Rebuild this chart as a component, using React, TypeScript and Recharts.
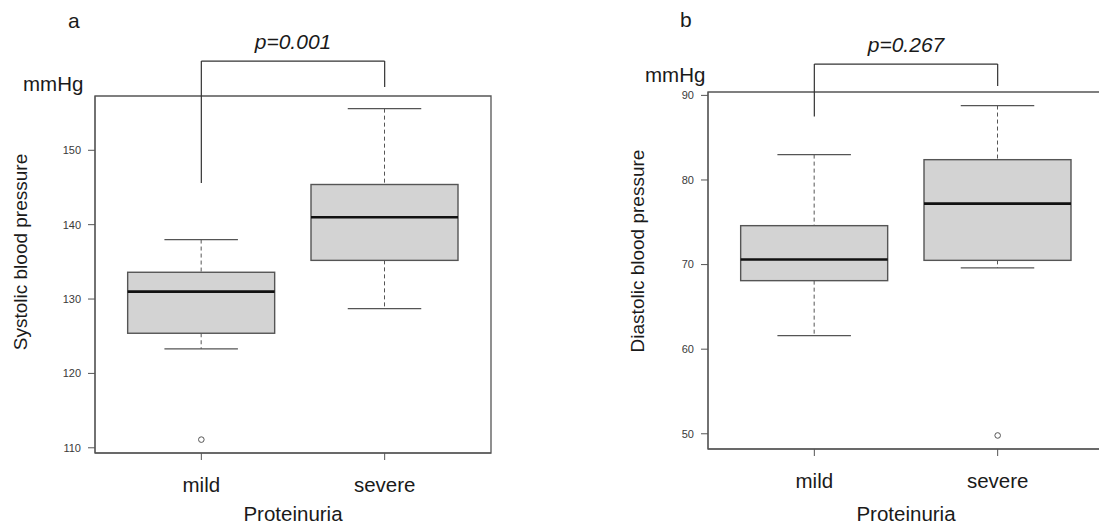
import React from 'react';
import { ComposedChart, Bar, Line, XAxis, YAxis, ReferenceLine, ReferenceArea } from 'recharts';

const groups = ['mild', 'severe'];
const groupPos = [1, 2];

// systolic (panel a)
const sbpLow = [123.3, 128.7];
const sbpQ1 = [125.4, 135.2];
const sbpMedian = [131.0, 141.0];
const sbpQ3 = [133.6, 145.4];
const sbpHigh = [138.0, 155.6];
const sbpOutlier = [111.1, null];
const sbpTicks = [110, 120, 130, 140, 150];

// diastolic (panel b)
const dbpLow = [61.6, 69.6];
const dbpQ1 = [68.1, 70.5];
const dbpMedian = [70.6, 77.2];
const dbpQ3 = [74.6, 82.4];
const dbpHigh = [83.0, 88.8];
const dbpOutlier = [null, 49.8];
const dbpTicks = [50, 60, 70, 80, 90];

const makeRows = (low, q1, med, q3, high, out) =>
    groups.map((g, i) => ({ group: g, pos: groupPos[i], low: low[i], q1: q1[i], median: med[i], q3: q3[i], high: high[i], outlier: out[i] }));

const sbpRows = makeRows(sbpLow, sbpQ1, sbpMedian, sbpQ3, sbpHigh, sbpOutlier);
const dbpRows = makeRows(dbpLow, dbpQ1, dbpMedian, dbpQ3, dbpHigh, dbpOutlier);

const FRAME = '#555';
const TEXT = '#1a1a1a';

const BoxShape = (props) => {
    const { x, y, width, height, payload } = props;
    if (payload == null || x == null) return null;
    const top = Math.min(y, y + height);
    const bottom = Math.max(y, y + height);
    // map a value to pixels using the whisker range the library gave us
    const py = (v) => bottom - (bottom - top) * (v - payload.low) / (payload.high - payload.low);
    const cx = x + width / 2;
    const cap = width * 0.25;
    return (
        <g>
            <line x1={cx} x2={cx} y1={py(payload.high)} y2={py(payload.q3)} stroke={FRAME} strokeWidth={1} strokeDasharray="4 3" />
            <line x1={cx} x2={cx} y1={py(payload.q1)} y2={py(payload.low)} stroke={FRAME} strokeWidth={1} strokeDasharray="4 3" />
            <line x1={cx - cap} x2={cx + cap} y1={py(payload.high)} y2={py(payload.high)} stroke={FRAME} strokeWidth={1.3} />
            <line x1={cx - cap} x2={cx + cap} y1={py(payload.low)} y2={py(payload.low)} stroke={FRAME} strokeWidth={1.3} />
            <rect x={x} y={py(payload.q3)} width={width} height={py(payload.q1) - py(payload.q3)} fill="#d3d3d3" stroke={FRAME} strokeWidth={1.4} />
            <line x1={x} x2={x + width} y1={py(payload.median)} y2={py(payload.median)} stroke="#111" strokeWidth={2.6} />
        </g>
    );
};

const OutlierDot = (props) => {
    const { cx, cy, value, index } = props;
    if (value == null || cy == null || isNaN(cy)) return <g key={`o-${index}`} />;
    return <circle key={`o-${index}`} cx={cx} cy={cy} r={2.8} fill="#fff" stroke={FRAME} strokeWidth={1} />;
};

const Panel = ({ rows, domain, ticks, width, margin, xHeight, pText, bracket }) => (
    <ComposedChart width={width} height={529} data={rows} margin={margin}>
        <XAxis dataKey="pos" type="number" domain={[0.42, 2.58]} ticks={groupPos} height={xHeight}
            tickFormatter={(v) => groups[v - 1]}
            stroke={FRAME} tickSize={7} tickMargin={17} tick={{ fontSize: 20.5, fill: TEXT }}
            label={{ value: 'Proteinuria', position: 'insideBottom', offset: 8, fontSize: 20.5, fill: TEXT }} />
        <YAxis type="number" domain={domain} ticks={ticks} width={60} stroke={FRAME} tickSize={7} tickMargin={7}
            tick={{ fontSize: 11, fill: '#3a3a3a' }} />
        {/* box around the plot region */}
        <ReferenceArea x1={0.42} x2={2.58} y1={domain[0]} y2={domain[1]} fill="none" stroke={FRAME} strokeWidth={1.3} ifOverflow="visible" />
        <Bar dataKey={(d) => [d.low, d.high]} barSize={147} shape={BoxShape} isAnimationActive={false} />
        <Line dataKey="outlier" stroke="none" dot={OutlierDot} activeDot={false} isAnimationActive={false} />
        <ReferenceLine ifOverflow="visible" stroke="#333" strokeWidth={1.2}
            segment={[{ x: 1, y: bracket.top }, { x: 2, y: bracket.top }]}
            label={{ value: pText, position: 'top', offset: 12, fontSize: 21, fontStyle: 'italic', fill: TEXT }} />
        <ReferenceLine ifOverflow="visible" stroke="#333" strokeWidth={1.2}
            segment={[{ x: 1, y: bracket.top }, { x: 1, y: bracket.left }]} />
        <ReferenceLine ifOverflow="visible" stroke="#333" strokeWidth={1.2}
            segment={[{ x: 2, y: bracket.top }, { x: 2, y: bracket.right }]} />
    </ComposedChart>
);

export default function App() {
    return (
        <div style={{ position: 'absolute', left: 0, top: 0, width: 1099, height: 529, overflow: 'hidden', background: '#fff', fontFamily: '"Liberation Sans", Arial, sans-serif' }}>
            <div style={{ position: 'absolute', left: 0, top: 0 }}>
                <Panel rows={sbpRows} domain={[109.3, 157.3]} ticks={sbpTicks} width={549}
                    margin={{ top: 96, right: 58, bottom: 0, left: 35 }} xHeight={76}
                    pText="p=0.001" bracket={{ top: 162.0, left: 145.6, right: 158.5 }} />
            </div>
            <div style={{ position: 'absolute', left: 550, top: 0 }}>
                <Panel rows={dbpRows} domain={[48.2, 90.4]} ticks={dbpTicks} width={560}
                    margin={{ top: 92, right: 6, bottom: 0, left: 98 }} xHeight={80}
                    pText="p=0.267" bracket={{ top: 93.7, left: 87.5, right: 91.1 }} />
            </div>
            <svg width={1099} height={529} style={{ position: 'absolute', left: 0, top: 0, pointerEvents: 'none' }}>
                <g fill={TEXT}>
                    <text x={68} y={28} fontSize={21}>a</text>
                    <text x={23} y={91} fontSize={20.5}>mmHg</text>
                    <text x={27} y={252} fontSize={19} textAnchor="middle" transform="rotate(-90 27 252)">Systolic blood pressure</text>
                    <text x={680} y={27} fontSize={21}>b</text>
                    <text x={645} y={82} fontSize={20.5}>mmHg</text>
                    <text x={644} y={251} fontSize={19} textAnchor="middle" transform="rotate(-90 644 251)">Diastolic blood pressure</text>
                </g>
            </svg>
        </div>
    );
}
